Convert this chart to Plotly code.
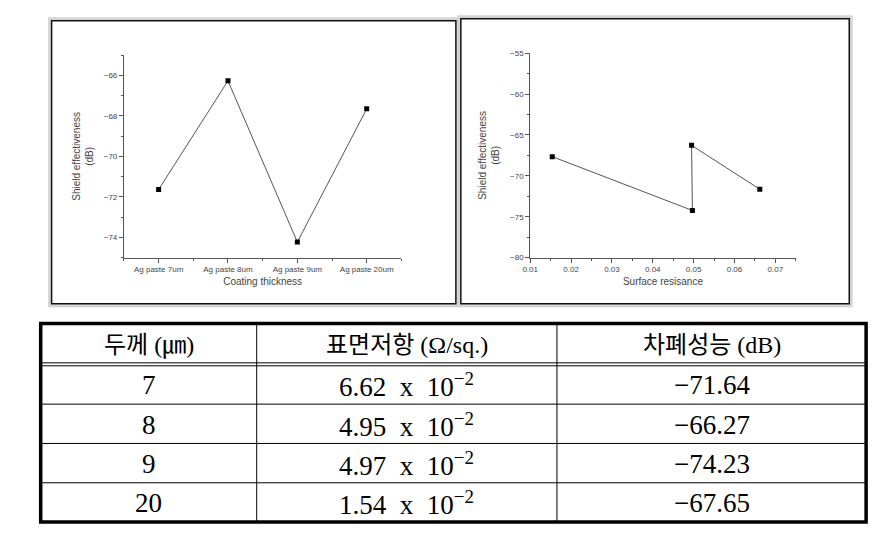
import plotly.graph_objects as go

# ---------------- data ----------------
thickness_labels = ["Ag paste 7um", "Ag paste 8um", "Ag paste 9um", "Ag paste 20um"]
thickness_um = [7, 8, 9, 20]
shield_db = [-71.64, -66.27, -74.23, -67.65]
res_mantissa = [6.62, 4.95, 4.97, 1.54]
res_exponent = [-2, -2, -2, -2]
surface_res = [m * 10 ** e for m, e in zip(res_mantissa, res_exponent)]
table_headers = ["두께 (㎛)", "표면저항 (Ω/sq.)", "차폐성능 (dB)"]

# ---------------- layout helpers ----------------
W, H = 878, 534
def px(x):
    return x / W
def py(y):
    return 1 - y / H

AX_COL = "#555555"
TXT_COL = "#444444"
SANS = "Liberation Sans, Arial, sans-serif"

fig = go.Figure()

# left chart: shield effectiveness vs coating thickness
fig.add_trace(go.Scatter(
    x=list(range(len(thickness_labels))), y=shield_db,
    mode="lines+markers",
    line=dict(color="#555555", width=1),
    marker=dict(symbol="square", size=5, color="black"),
    xaxis="x", yaxis="y", showlegend=False, hoverinfo="skip"))

# right chart: shield effectiveness vs surface resistance (order of thickness descending)
order = sorted(range(len(thickness_um)), key=lambda i: -thickness_um[i])
fig.add_trace(go.Scatter(
    x=[surface_res[i] for i in order], y=[shield_db[i] for i in order],
    mode="lines+markers",
    line=dict(color="#555555", width=1),
    marker=dict(symbol="square", size=5, color="black"),
    xaxis="x2", yaxis="y2", showlegend=False, hoverinfo="skip"))

axis_common = dict(
    showgrid=False, zeroline=False, showline=True, linecolor=AX_COL, linewidth=1,
    ticks="outside", ticklen=4, tickwidth=1, tickcolor=AX_COL,
    tickfont=dict(family=SANS, size=8, color=TXT_COL),
    mirror=False,
)
title_font = dict(family=SANS, size=10, color=TXT_COL)

fig.update_layout(
    width=W, height=H,
    margin=dict(l=0, r=0, t=0, b=0),
    paper_bgcolor="white", plot_bgcolor="white",
    xaxis=dict(
        **axis_common, domain=[px(117), px(397)], anchor="y",
        range=[-0.5, len(thickness_labels) - 0.5],
        tickmode="array", tickvals=list(range(len(thickness_labels))), ticktext=thickness_labels,
        minor=dict(ticks="outside", ticklen=2, tickcolor=AX_COL, dtick=0.5, tick0=-0.5),
        title=dict(text="Coating thickness", font=title_font, standoff=4),
    ),
    yaxis=dict(
        **axis_common, domain=[py(258), py(52)], anchor="x",
        range=[-75, -65], dtick=2, tick0=0,
        minor=dict(ticks="outside", ticklen=2, tickcolor=AX_COL, dtick=1, tick0=0),
        title=dict(text="Shield effectiveness<br>(dB)", font=title_font, standoff=8),
    ),
    xaxis2=dict(
        **axis_common, domain=[px(527), px(795)], anchor="y2",
        range=[0.01, 0.075], dtick=0.01, tick0=0, tickformat=".2f",
        minor=dict(ticks="outside", ticklen=2, tickcolor=AX_COL, dtick=0.005, tick0=0),
        title=dict(text="Surface resisance", font=title_font, standoff=4),
    ),
    yaxis2=dict(
        **axis_common, domain=[py(258), py(50)], anchor="x2",
        range=[-80, -55], dtick=5, tick0=0,
        minor=dict(ticks="outside", ticklen=2, tickcolor=AX_COL, dtick=2.5, tick0=0),
        title=dict(text="Shield effectiveness<br>(dB)", font=title_font, standoff=8),
    ),
)

shapes = []
# frames around the two charts (gray shadow + dark border)
for (x0, y0, x1, y1) in [(44, 17, 452, 305), (457, 15, 849, 305)]:
    shapes.append(dict(type="rect", xref="paper", yref="paper",
                       x0=px(x0 - 2), x1=px(x1 + 2), y0=py(y1 + 2), y1=py(y0 - 2),
                       line=dict(color="#d4d4d4", width=3)))
    shapes.append(dict(type="rect", xref="paper", yref="paper",
                       x0=px(x0), x1=px(x1), y0=py(y1), y1=py(y0),
                       line=dict(color="#111111", width=1.5)))

# ---------------- table ----------------
col_edges = [33, 251, 554, 866]
header_top, header_bot = 325, 367
row_h = 40
n_rows = len(thickness_um)
table_bot = header_bot + row_h * n_rows

# inner vertical lines
for xe in col_edges[1:-1]:
    shapes.append(dict(type="line", xref="paper", yref="paper",
                       x0=px(xe), x1=px(xe), y0=py(header_top), y1=py(table_bot),
                       line=dict(color="black", width=1)))
# double line under header
for yy in (header_bot - 2, header_bot + 1):
    shapes.append(dict(type="line", xref="paper", yref="paper",
                       x0=px(col_edges[0]), x1=px(col_edges[-1]), y0=py(yy), y1=py(yy),
                       line=dict(color="black", width=1)))
# row lines
for r in range(1, n_rows):
    yy = header_bot + row_h * r
    shapes.append(dict(type="line", xref="paper", yref="paper",
                       x0=px(col_edges[0]), x1=px(col_edges[-1]), y0=py(yy), y1=py(yy),
                       line=dict(color="black", width=1)))
# thick outer border
shapes.append(dict(type="rect", xref="paper", yref="paper",
                   x0=px(col_edges[0]), x1=px(col_edges[-1]), y0=py(table_bot), y1=py(header_top),
                   line=dict(color="black", width=3.5)))

annotations = []
SERIF = "Liberation Serif, Noto Sans CJK KR, serif"
col_centers = [(col_edges[i] + col_edges[i + 1]) / 2 for i in range(len(col_edges) - 1)]
for c, htxt in enumerate(table_headers):
    annotations.append(dict(xref="paper", yref="paper", x=px(col_centers[c]),
                            y=py((header_top + header_bot) / 2 + 1), text=htxt, showarrow=False,
                            xanchor="center", yanchor="middle",
                            font=dict(family=SERIF, size=24, color="black")))
for r in range(n_rows):
    yc = header_bot + row_h * r + row_h / 2 + 1
    cells = [
        str(thickness_um[r]),
        f"{res_mantissa[r]:.2f}  x  10<sup>\u2212{abs(res_exponent[r])}</sup>",
        f"\u2212{abs(shield_db[r]):.2f}",
    ]
    for c, t in enumerate(cells):
        annotations.append(dict(xref="paper", yref="paper", x=px(col_centers[c]), y=py(yc),
                                text=t, showarrow=False, xanchor="center", yanchor="middle",
                                font=dict(family=SERIF, size=27, color="black")))

fig.update_layout(shapes=shapes, annotations=annotations)
fig.write_html("out.html")
